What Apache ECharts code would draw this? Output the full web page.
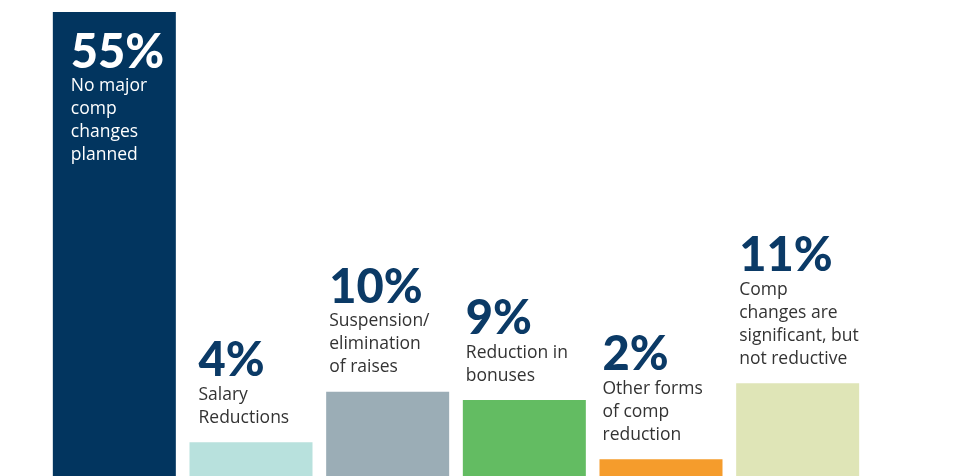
<!DOCTYPE html>
<html>
<head>
<meta charset="utf-8">
<script src="https://cdn.jsdelivr.net/npm/echarts@6/dist/echarts.min.js"></script>
<style>
  html, body { margin: 0; padding: 0; background: #ffffff; }
  #chart { width: 956px; height: 476px; }
</style>
</head>
<body>
<div id="chart"></div>
<script>
// Planned compensation changes, share of respondents (%)
const categories = [
  'No major\ncomp\nchanges\nplanned',
  'Salary\nReductions',
  'Suspension/\nelimination\nof raises',
  'Reduction in\nbonuses',
  'Other forms\nof comp\nreduction',
  'Comp\nchanges are\nsignificant, but\nnot reductive'
];
const shares = [55, 4, 10, 9, 2, 11];
const barColors = ['#02355f', '#b8e1dd', '#9badb6', '#63bc62', '#f59c2c', '#dfe5b7'];

const NUM_FONT = 'Lato, sans-serif';
const TXT_FONT = '"Open Sans", Lato, sans-serif';

const data = shares.map(function (v, i) {
  const first = i === 0;
  return {
    value: v,
    itemStyle: { color: barColors[i] },
    label: {
      show: true,
      position: first ? [18, 19] : [i === 1 ? 9 : 3, -13],
      align: 'left',
      verticalAlign: first ? 'top' : 'bottom',
      formatter: '{pct|' + v + '%}\n{txt|' + categories[i].split('\n').join('}\n{txt|') + '}',
      rich: {
        pct: {
          fontFamily: NUM_FONT, fontSize: 47, fontWeight: 900, lineHeight: 44,
          color: first ? '#ffffff' : '#0b3a66'
        },
        txt: {
          fontFamily: TXT_FONT, fontSize: 17.5, fontWeight: 400, lineHeight: 23,
          color: first ? '#ffffff' : '#333333'
        }
      }
    }
  };
});

const chart = echarts.init(document.getElementById('chart'), null, { renderer: 'canvas' });
chart.setOption({
  backgroundColor: '#ffffff',
  animation: false,
  grid: { left: 46, right: 90, top: 12, bottom: -5, containLabel: false },
  xAxis: {
    type: 'category',
    data: categories,
    show: false
  },
  yAxis: {
    type: 'value',
    min: 0,
    max: 55,
    show: false
  },
  series: [{
    type: 'bar',
    barWidth: 123,
    data: data
  }]
});
</script>
</body>
</html>
